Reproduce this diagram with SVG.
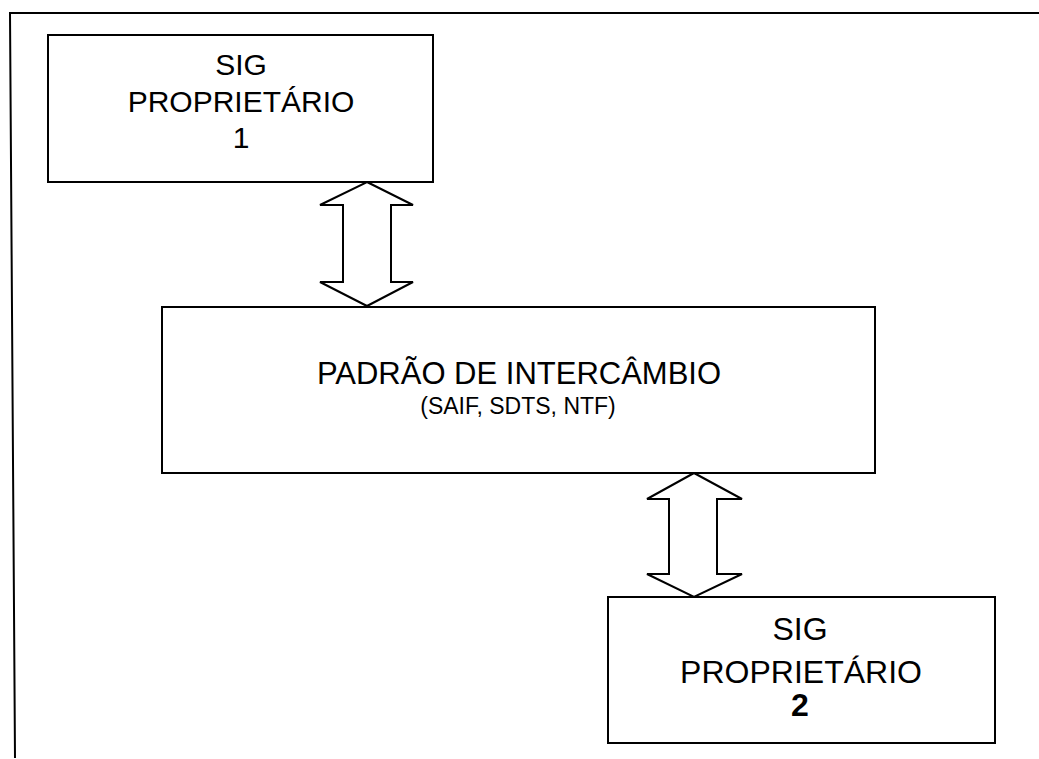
<svg xmlns="http://www.w3.org/2000/svg" width="1039" height="759" viewBox="0 0 1039 759">
<style>
.box{fill:#fff;stroke:#000;stroke-width:2}
.arr{fill:#fff;stroke:#000;stroke-width:2;stroke-linejoin:miter}
.t{font-family:"Liberation Sans",Arial,sans-serif;fill:#000;text-anchor:middle}
.b1{font-size:30px}
.b2{font-size:32px}
.mid{font-size:31px}
.small{font-size:23px}
</style>
<rect width="1039" height="759" fill="#fff"/>
<path d="M15,758 L10,13 L1039,13" fill="none" stroke="#000" stroke-width="2"/>
<g id="connectors">
<polygon class="arr" points="367,182 413,205 391,205 391,282 413,282 367,306 320,282 343,282 343,205 320,205"/>
<polygon class="arr" points="694,473 742,499 717,499 717,574 742,574 694,597 647,574 669,574 669,499 647,499"/>
</g>
<g id="sig1">
<rect class="box" x="48" y="35" width="385" height="147"/>
<text class="t b1" x="241" y="75">SIG</text>
<text class="t b1" x="241" y="112">PROPRIETÁRIO</text>
<text class="t b1" x="241" y="148">1</text>
</g>
<g id="padrao">
<rect class="box" x="162" y="307" width="713" height="166"/>
<text class="t mid" x="519" y="384">PADRÃO DE INTERCÂMBIO</text>
<text class="t small" x="518" y="414">(SAIF, SDTS, NTF)</text>
</g>
<g id="sig2">
<rect class="box" x="608" y="597" width="387" height="146"/>
<text class="t b2" x="800" y="640">SIG</text>
<text class="t b2" x="801" y="683">PROPRIETÁRIO</text>
<text class="t b2" x="800" y="716" font-weight="bold">2</text>
</g>
</svg>
